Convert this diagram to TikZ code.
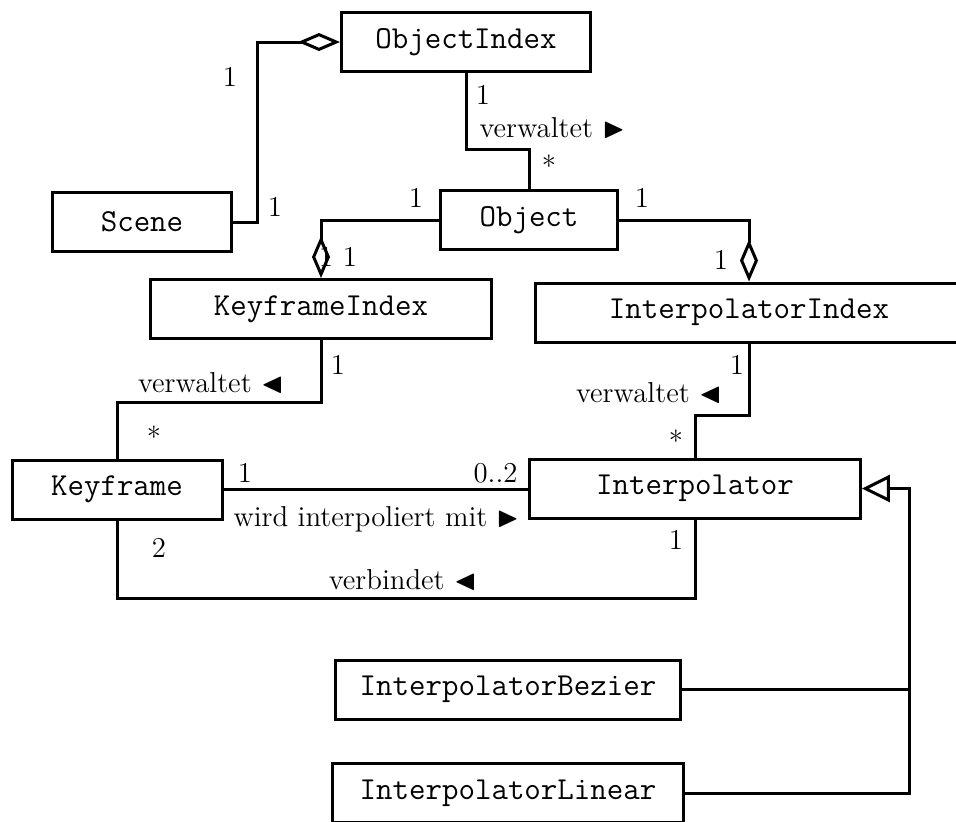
\documentclass[tikz,border=0pt]{standalone}
\usepackage{fontspec}
\usepackage{amssymb}
\usetikzlibrary{arrows.meta}

\begin{document}
\begin{tikzpicture}[x=.5pt, y=-.5pt, line width=1.5pt,
    cls/.style={draw, minimum height=29.5pt, inner sep=0pt,
      font=\ttfamily\fontsize{16}{18}\selectfont},
    lbl/.style={inner sep=0pt, font=\fontsize{14.4}{17}\selectfont},
    agg/.style={-{Diamond[open, length=21pt, width=9pt]}},
    gen/.style={-{Triangle[open, length=14pt, width=13.5pt]}}]
  \useasboundingbox (0,0) rectangle (956,821);
  % classes
  \node[cls, minimum width=124.5pt] (OI) at (466,42) {ObjectIndex};
  \node[cls, minimum width=89.2pt] (S) at (142,222) {Scene};
  \node[cls, minimum width=88.2pt] (O) at (529,220) {Object};
  \node[cls, minimum width=170.4pt] (KI) at (321,309) {KeyframeIndex};
  \node[cls, minimum width=214pt] (II) at (749,312.5) {InterpolatorIndex};
  \node[cls, minimum width=105pt] (K) at (117,489.5) {Keyframe};
  \node[cls, minimum width=165.4pt] (I) at (695,488.5) {Interpolator};
  \node[cls, minimum width=172.9pt] (IB) at (508,689.5) {InterpolatorBezier};
  \node[cls, minimum width=175.3pt] (IL) at (508,793) {InterpolatorLinear};
  % multiplicities and roles
  \node[lbl] (s1) at (230,77) {1};
  \node[lbl] (s2) at (275,207) {1};
  \node[lbl] (oi1) at (483,95) {1};
  \node[lbl, anchor=west] (oiv) at (478,128) {verwaltet $\blacktriangleright$};
  \node[lbl] (oi2) at (549,166) {*};
  \node[lbl] (ok1) at (416,198) {1};
  \node[lbl] (ok2) at (326,257) {1};
  \node[lbl] (ok3) at (350,257) {1};
  \node[lbl] (oj1) at (642,198) {1};
  \node[lbl] (oj2) at (721,260) {1};
  \node[lbl] (ki1) at (338,365) {1};
  \node[lbl, anchor=east] (kiv) at (285,383) {verwaltet $\blacktriangleleft$};
  \node[lbl] (ki2) at (154,437) {*};
  \node[lbl] (ii1) at (737,365) {1};
  \node[lbl, anchor=east] (iiv) at (723,393) {verwaltet $\blacktriangleleft$};
  \node[lbl] (ii2) at (676,441) {*};
  \node[lbl] (w1) at (245,473) {1};
  \node[lbl, anchor=east] (w2) at (519,473) {0..2};
  \node[lbl, anchor=west] (wv) at (232,519) {wird interpoliert mit $\blacktriangleright$};
  \node[lbl] (v1) at (159,548) {2};
  \node[lbl, anchor=east] (vv) at (478,580) {verbindet $\blacktriangleleft$};
  \node[lbl] (v2) at (676,540) {1};
  % associations
  \draw[agg] (S.east) -- ++(25,0) |- (OI.west);
  \draw (OI.south) -- ++(0,76) -| (O.north);
  \draw[agg] (O.west) -| (KI.north);
  \draw[agg] (O.east) -| (II.north);
  \draw (KI.south) -- ++(0,62.5) -| (K.north);
  \draw (II.south) -- ++(0,72) -| (I.north);
  \draw (K.east) -- (K.east -| I.west);
  \draw (K.south) -- ++(0,78) -| (I.south);
  % generalisation
  \coordinate (bus) at (909,690);
  \draw[gen] (IB.east) -- (IB.east -| bus) |- (I.east);
  \draw (IL.east) -| (bus);
\end{tikzpicture}
\end{document}
